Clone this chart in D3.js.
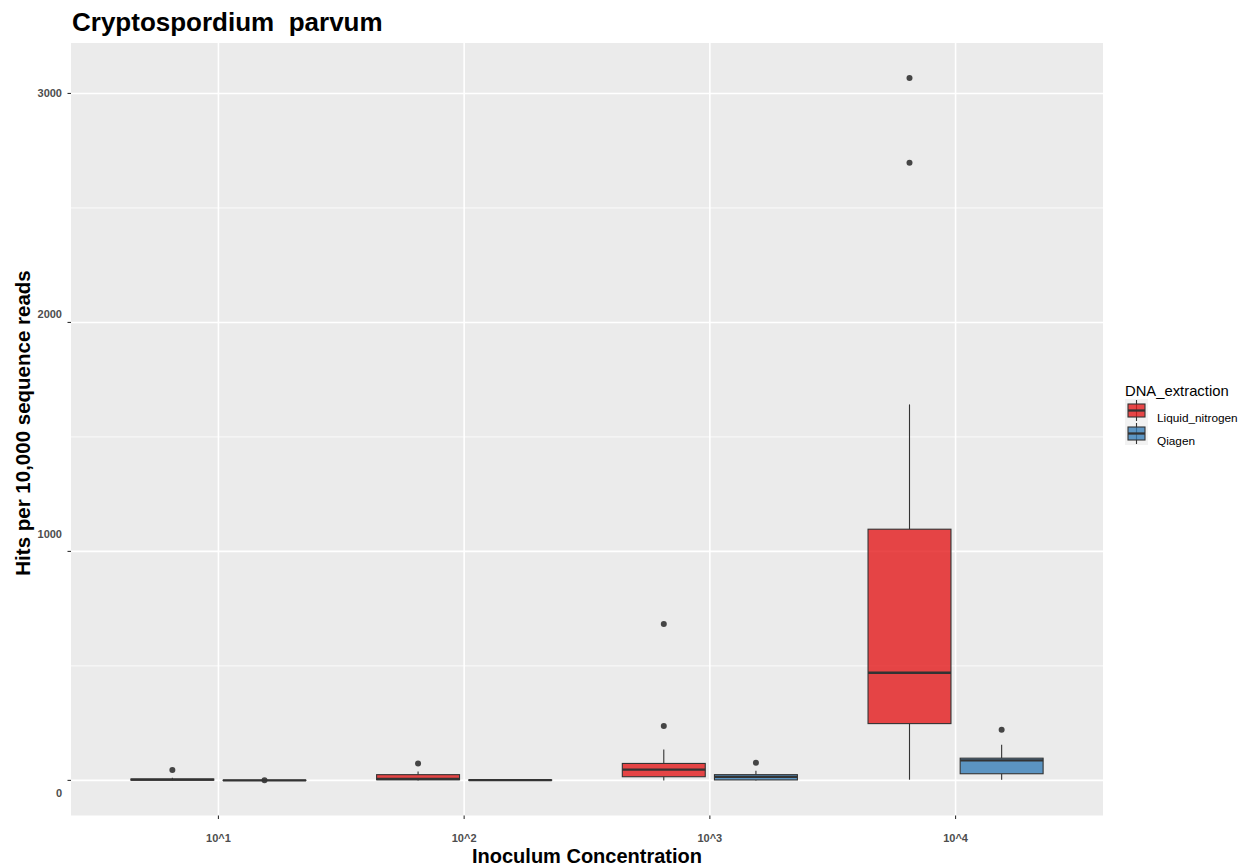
<!DOCTYPE html>
<html>
<head>
<meta charset="utf-8">
<script src="https://cdn.jsdelivr.net/npm/d3@7"></script>
<style>
  html, body { margin: 0; padding: 0; background: #ffffff; }
  svg { display: block; font-family: "Liberation Sans", Arial, sans-serif; }
  text { white-space: pre; }
</style>
</head>
<body>
<svg id="chart" width="1247" height="867"></svg>
<script>
// Inoculum concentrations on the x axis
const categories = ["10^1", "10^2", "10^3", "10^4"];
const methods = ["Liquid_nitrogen", "Qiagen"];
const methodColors = ["#E41A1C", "#377EB8"];

// Box summaries per concentration: [lower whisker, Q1, median, Q3, upper whisker]
const liquidNitrogenBoxes = [
  [0, 1, 3, 6, 12],
  [0, 3, 6, 25, 39],
  [0, 16, 47, 74, 135],
  [3, 248, 470, 1097, 1642]
];
const liquidNitrogenOutliers = [[45], [74], [237, 683], [2697, 3067]];

const qiagenBoxes = [
  [0, 0, 0.2, 0.6, 1],
  [0, 0.5, 1, 2, 4],
  [0, 2, 15, 25, 42],
  [3, 29, 87, 97, 156]
];
const qiagenOutliers = [[1], [], [77], [221]];

const yTicks = [0, 1000, 2000, 3000];
const yMinorTicks = [500, 1500, 2500];

const boxData = [liquidNitrogenBoxes, qiagenBoxes];
const outlierData = [liquidNitrogenOutliers, qiagenOutliers];

const svg = d3.select("#chart");
const panel = { left: 71, right: 1103, top: 43, bottom: 815.5 };

// y range with 5% expansion around the data extent
const allValues = boxData.flat(2).concat(outlierData.flat(2));
const yMin = d3.min(allValues), yMax = d3.max(allValues);
const pad = (yMax - yMin) * 0.05;
const y = d3.scaleLinear().domain([yMin - pad, yMax + pad]).range([panel.bottom, panel.top]);

const x = d3.scalePoint().domain(categories).range([panel.left, panel.right]).padding(0.6);
const step = x.step();
const dodge = d3.scaleBand().domain(methods).range([-0.375 * step, 0.375 * step]);
const boxW = dodge.bandwidth() * 0.9;

// panel background
svg.append("rect")
  .attr("x", panel.left).attr("y", panel.top)
  .attr("width", panel.right - panel.left).attr("height", panel.bottom - panel.top)
  .attr("fill", "#EBEBEB");

const grid = svg.append("g");
grid.append("g").selectAll("line").data(yMinorTicks).join("line")
  .attr("x1", panel.left).attr("x2", panel.right)
  .attr("y1", d => y(d)).attr("y2", d => y(d))
  .attr("stroke", "#ffffff").attr("stroke-width", 0.8);
grid.append("g").selectAll("line").data(yTicks).join("line")
  .attr("x1", panel.left).attr("x2", panel.right)
  .attr("y1", d => y(d)).attr("y2", d => y(d))
  .attr("stroke", "#ffffff").attr("stroke-width", 1.6);
grid.append("g").selectAll("line").data(categories).join("line")
  .attr("x1", d => x(d)).attr("x2", d => x(d))
  .attr("y1", panel.top).attr("y2", panel.bottom)
  .attr("stroke", "#ffffff").attr("stroke-width", 1.6);

// boxplots, one group per box
const dark = "#333333";
methods.forEach((m, mi) => {
  categories.forEach((c, ci) => {
    const g = svg.append("g");
    const [lo, q1, med, q3, hi] = boxData[mi][ci];
    const cx = x(c) + dodge(m) + dodge.bandwidth() / 2;
    g.append("line").attr("x1", cx).attr("x2", cx).attr("y1", y(q3)).attr("y2", y(hi))
      .attr("stroke", dark).attr("stroke-width", 1.1);
    g.append("line").attr("x1", cx).attr("x2", cx).attr("y1", y(q1)).attr("y2", y(lo))
      .attr("stroke", dark).attr("stroke-width", 1.1);
    g.append("rect")
      .attr("x", cx - boxW / 2).attr("width", boxW)
      .attr("y", y(q3)).attr("height", Math.max(0.01, y(q1) - y(q3)))
      .attr("fill", methodColors[mi]).attr("fill-opacity", 0.8)
      .attr("stroke", dark).attr("stroke-width", 1.1);
    g.append("line").attr("x1", cx - boxW / 2).attr("x2", cx + boxW / 2)
      .attr("y1", y(med)).attr("y2", y(med))
      .attr("stroke", dark).attr("stroke-width", 2.3);
    g.selectAll("circle").data(outlierData[mi][ci]).join("circle")
      .attr("cx", cx).attr("cy", d => y(d)).attr("r", 3)
      .attr("fill", dark).attr("fill-opacity", 0.9);
  });
});

// y axis
const yAxis = svg.append("g");
yAxis.selectAll("line").data(yTicks).join("line")
  .attr("x1", panel.left - 3.5).attr("x2", panel.left)
  .attr("y1", d => y(d)).attr("y2", d => y(d))
  .attr("stroke", dark).attr("stroke-width", 1.1);
const yLabelNudge = { 0: 13, 1000: -17, 2000: -8, 3000: 0 };
yAxis.selectAll("text").data(yTicks).join("text")
  .attr("x", panel.left - 9).attr("y", d => y(d) + yLabelNudge[d])
  .attr("dy", "0.36em").attr("text-anchor", "end")
  .attr("font-size", 11).attr("font-weight", "bold").attr("fill", "#4D4D4D")
  .text(d => d);

// x axis
const xAxis = svg.append("g");
xAxis.selectAll("line").data(categories).join("line")
  .attr("x1", d => x(d)).attr("x2", d => x(d))
  .attr("y1", panel.bottom).attr("y2", panel.bottom + 3.5)
  .attr("stroke", dark).attr("stroke-width", 1.1);
xAxis.selectAll("text").data(categories).join("text")
  .attr("x", d => x(d)).attr("y", 838).attr("dy", "0.36em")
  .attr("text-anchor", "middle")
  .attr("font-size", 11).attr("font-weight", "bold").attr("fill", "#4D4D4D")
  .text(d => d);

// titles
svg.append("text").attr("x", 72).attr("y", 31)
  .attr("font-size", 26).attr("font-weight", "bold").attr("fill", "#000")
  .text("Cryptospordium  parvum");
svg.append("text").attr("x", (panel.left + panel.right) / 2).attr("y", 863)
  .attr("text-anchor", "middle")
  .attr("font-size", 20).attr("font-weight", "bold").attr("fill", "#000")
  .text("Inoculum Concentration");
svg.append("text")
  .attr("transform", "translate(30, 423) rotate(-90)")
  .attr("text-anchor", "middle")
  .attr("font-size", 20.5).attr("font-weight", "bold").attr("fill", "#000")
  .text("Hits per 10,000 sequence reads");

// legend
const legend = svg.append("g").attr("transform", "translate(1125, 0)");
legend.append("text").attr("x", 0).attr("y", 396)
  .attr("font-size", 14.8).attr("fill", "#000").text("DNA_extraction");
methods.forEach((m, i) => {
  const top = 399 + i * 23;
  const k = legend.append("g").attr("transform", `translate(0, ${top})`);
  k.append("rect").attr("x", 0).attr("y", 0).attr("width", 23).attr("height", 23).attr("fill", "#F2F2F2");
  k.append("line").attr("x1", 11.5).attr("x2", 11.5).attr("y1", 1).attr("y2", 22)
    .attr("stroke", dark).attr("stroke-width", 1.1);
  k.append("rect").attr("x", 3).attr("y", 5).attr("width", 17).attr("height", 13)
    .attr("fill", methodColors[i]).attr("fill-opacity", 0.8)
    .attr("stroke", dark).attr("stroke-width", 1.1);
  k.append("line").attr("x1", 3).attr("x2", 20).attr("y1", 11.5).attr("y2", 11.5)
    .attr("stroke", dark).attr("stroke-width", 2.3);
  legend.append("text").attr("x", 32).attr("y", top + 19).attr("dy", "0.36em")
    .attr("font-size", 11.8).attr("fill", "#000").text(m);
});
</script>
</body>
</html>
